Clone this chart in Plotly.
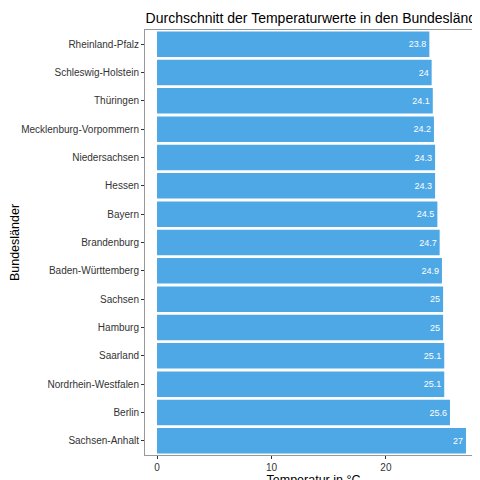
import plotly.graph_objects as go

states = ["Rheinland-Pfalz","Schleswig-Holstein","Thüringen","Mecklenburg-Vorpommern",
          "Niedersachsen","Hessen","Bayern","Brandenburg","Baden-Württemberg","Sachsen",
          "Hamburg","Saarland","Nordrhein-Westfalen","Berlin","Sachsen-Anhalt"]
temps = [23.8,24,24.1,24.2,24.3,24.3,24.5,24.7,24.9,25,25,25.1,25.1,25.6,27]
labels = ["23.8","24","24.1","24.2","24.3","24.3","24.5","24.7","24.9","25","25","25.1","25.1","25.6","27"]

fig = go.Figure(go.Bar(
    x=temps, y=states, orientation="h", width=0.9,
    marker=dict(color="#4EA8E6", line=dict(width=0)),
    text=labels, textposition="inside", insidetextanchor="end",
    textfont=dict(color="white", size=9), cliponaxis=False))

fig.update_layout(
    width=480, height=480, plot_bgcolor="white", paper_bgcolor="white",
    font=dict(family="Liberation Sans, Arial", color="black"),
    margin=dict(l=137, r=6, t=22, b=33, autoexpand=False),
    title=dict(text="Durchschnitt der Temperaturwerte in den Bundesländern",
               x=0.652, xanchor="center", y=0.99, yanchor="top",
               font=dict(size=14)),
    showlegend=False)
fig.update_xaxes(range=[-1.05, 28.4], tickvals=[0,10,20], showgrid=False, zeroline=False,
                 showline=True, linecolor="#999", mirror=True, ticks="outside",
                 ticklen=3, tickcolor="#333", tickfont=dict(size=10, color="#333"),
                 automargin=False,
                 title=dict(text="Temperatur in °C", font=dict(size=12.5), standoff=2))
fig.update_yaxes(autorange="reversed", showgrid=False, showline=True, linecolor="#999",
                 mirror=True, ticks="outside", ticklen=3, tickcolor="#333",
                 tickfont=dict(size=10, color="#333"), automargin=False,
                 title=dict(text="Bundesländer", font=dict(size=12.5), standoff=4))
fig.write_html("out.html")
